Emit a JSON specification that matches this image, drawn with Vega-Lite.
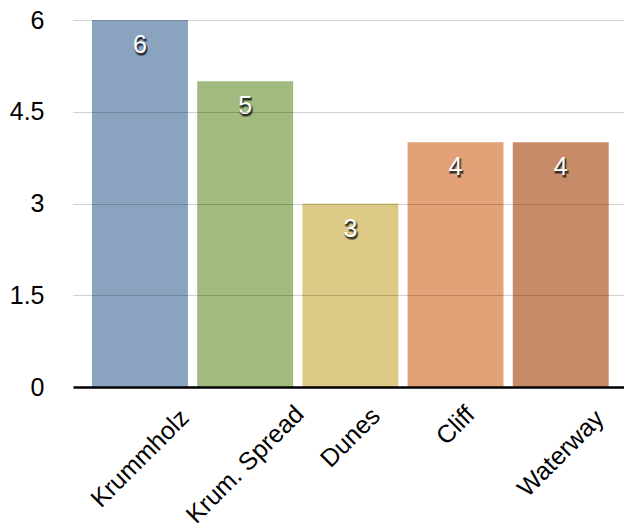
{
  "$schema": "https://vega.github.io/schema/vega-lite/v6.json",
  "width": 551,
  "height": 367,
  "autosize": "none",
  "padding": {"left": 73, "top": 20, "right": 0, "bottom": 145},
  "background": "white",
  "config": {
    "view": {"stroke": null},
    "font": "Liberation Sans"
  },
  "data": {
    "values": [
      {"habitat": "Krummholz", "count": 6, "color": "#8AA3BF"},
      {"habitat": "Krum. Spread", "count": 5, "color": "#A1BA7D"},
      {"habitat": "Dunes", "count": 3, "color": "#DCC985"},
      {"habitat": "Cliff", "count": 4, "color": "#E3A178"},
      {"habitat": "Waterway", "count": 4, "color": "#C78C67"}
    ]
  },
  "encoding": {
    "x": {
      "field": "habitat",
      "type": "nominal",
      "sort": null,
      "scale": {"paddingInner": 0.088, "paddingOuter": 0.163, "align": 0.554},
      "axis": {
        "title": null,
        "labelAngle": -45,
        "labelAlign": "center",
        "labelBaseline": "middle",
        "labelPadding": {
          "condition": [
            {"test": "datum.value === 'Krummholz'", "value": 71},
            {"test": "datum.value === 'Krum. Spread'", "value": 77},
            {"test": "datum.value === 'Dunes'", "value": 50},
            {"test": "datum.value === 'Cliff'", "value": 38}
          ],
          "value": 66
        },
        "labelFontSize": 25,
        "labelColor": "#000",
        "ticks": false,
        "domainColor": "#000",
        "domainWidth": 2.5,
        "zindex": 2
      }
    },
    "y": {
      "field": "count",
      "type": "quantitative",
      "scale": {"domain": [0, 6], "nice": false},
      "axis": {
        "title": null,
        "values": [0, 1.5, 3, 4.5, 6],
        "format": ".1~f",
        "labelFontSize": 25,
        "labelColor": "#000",
        "labelPadding": 29,
        "ticks": false,
        "domain": false,
        "gridColor": "#000",
        "gridOpacity": 0.18,
        "gridWidth": 1,
        "zindex": 1
      }
    }
  },
  "layer": [
    {
      "mark": {"type": "bar"},
      "encoding": {"color": {"field": "color", "type": "nominal", "scale": null, "legend": null}}
    },
    {
      "mark": {"type": "text", "baseline": "alphabetic", "dy": 35, "dx": 1, "fontSize": 25, "fill": "#111", "stroke": "#111", "strokeWidth": 2, "strokeOpacity": 0.5, "opacity": 0.8},
      "encoding": {"text": {"field": "count", "type": "quantitative"}}
    },
    {
      "mark": {"type": "text", "baseline": "alphabetic", "dy": 33, "fontSize": 25, "fill": "#fff"},
      "encoding": {"text": {"field": "count", "type": "quantitative"}}
    }
  ]
}
